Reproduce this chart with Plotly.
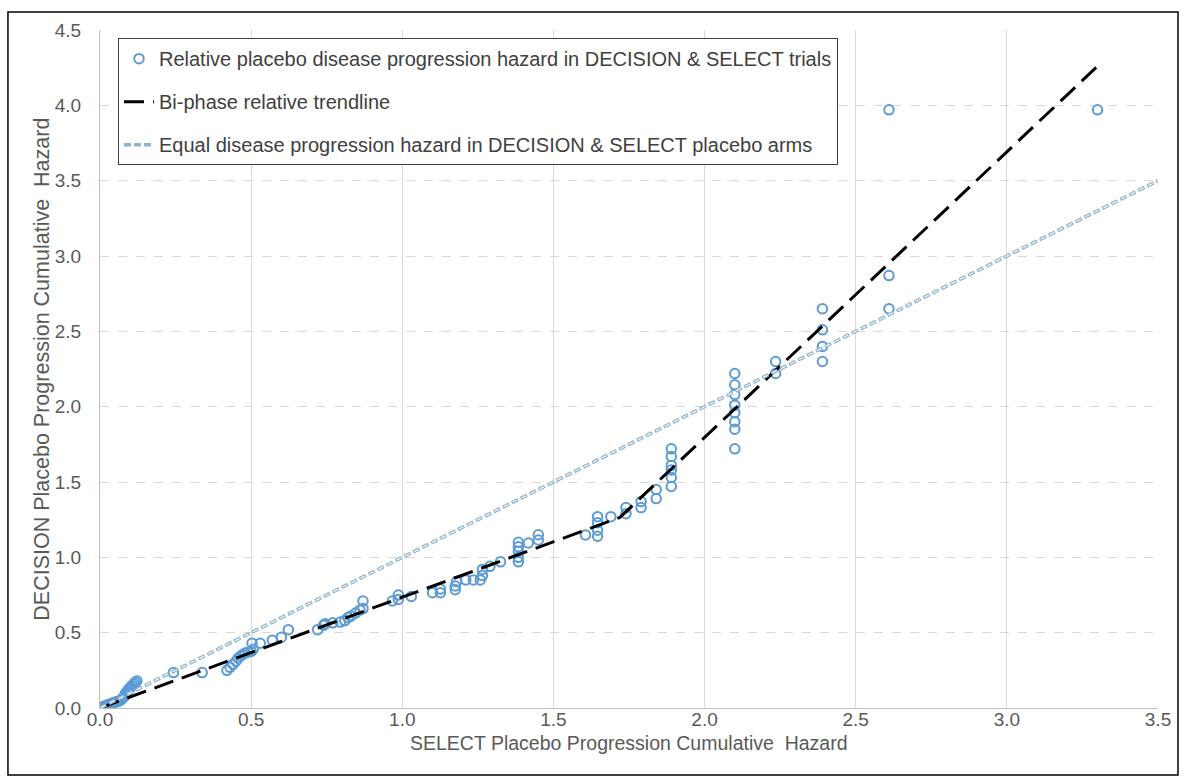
import plotly.graph_objects as go

# Relative placebo disease progression hazard (SELECT x, DECISION y)
select_hazard = [
    0.0, 0.005, 0.01, 0.015, 0.02, 0.025, 0.03, 0.035, 0.04, 0.045, 0.05, 0.055, 0.06, 0.065,
    0.07, 0.075, 0.08, 0.083, 0.086, 0.09, 0.094, 0.098, 0.102, 0.107, 0.112, 0.117, 0.122,
    0.243, 0.338,
    0.42, 0.43, 0.44, 0.45, 0.457, 0.465, 0.473, 0.48, 0.49, 0.50, 0.503, 0.507, 0.53, 0.57, 0.60, 0.623,
    0.72, 0.74, 0.745, 0.77, 0.795, 0.81, 0.82, 0.83, 0.845, 0.86, 0.87, 0.87,
    0.967, 0.987, 0.987, 1.03, 1.10, 1.126, 1.126, 1.175, 1.175, 1.18, 1.21, 1.235, 1.258, 1.265, 1.265, 1.29, 1.325,
    1.384, 1.384, 1.384, 1.384, 1.384, 1.417, 1.45, 1.45,
    1.606, 1.646, 1.646, 1.646, 1.646, 1.69, 1.74, 1.74, 1.79, 1.79, 1.84, 1.84,
    1.89, 1.89, 1.89, 1.89, 1.89, 1.89,
    2.10, 2.10, 2.10, 2.10, 2.10, 2.10, 2.10, 2.10,
    2.235, 2.235,
    2.39, 2.39, 2.39, 2.39,
    2.61, 2.61, 2.61, 3.30,
]
decision_hazard = [
    0.0, 0.004, 0.008, 0.012, 0.016, 0.02, 0.024, 0.028, 0.032, 0.035, 0.038, 0.042, 0.045, 0.048,
    0.055, 0.065, 0.075, 0.09, 0.10, 0.11, 0.12, 0.13, 0.14, 0.15, 0.16, 0.17, 0.18,
    0.235, 0.235,
    0.25, 0.27, 0.29, 0.31, 0.33, 0.345, 0.355, 0.365, 0.37, 0.375, 0.43, 0.39, 0.43, 0.45, 0.47, 0.52,
    0.52, 0.55, 0.56, 0.565, 0.57, 0.58, 0.60, 0.61, 0.63, 0.65, 0.66, 0.71,
    0.71, 0.72, 0.75, 0.74, 0.765, 0.765, 0.79, 0.785, 0.81, 0.84, 0.85, 0.85, 0.85, 0.88, 0.92, 0.94, 0.97,
    0.97, 1.00, 1.04, 1.07, 1.10, 1.095, 1.115, 1.15,
    1.149, 1.14, 1.18, 1.23, 1.27, 1.27, 1.29, 1.33, 1.33, 1.37, 1.39, 1.45,
    1.47, 1.53, 1.58, 1.61, 1.67, 1.72,
    1.72, 1.85, 1.90, 1.96, 2.01, 2.08, 2.145, 2.22,
    2.22, 2.30,
    2.30, 2.40, 2.51, 2.65,
    2.65, 2.87, 3.97, 3.97,
]

# Bi-phase trendline vertices
trend_x = [0.0, 1.72, 3.30]
trend_y = [0.0, 1.265, 4.26]

# Equal hazard line
equal_x = [0.0, 3.5]
equal_y = [0.0, 3.5]

x_ticks = [0.0, 0.5, 1.0, 1.5, 2.0, 2.5, 3.0, 3.5]
y_ticks = [0.0, 0.5, 1.0, 1.5, 2.0, 2.5, 3.0, 3.5, 4.0, 4.5]

FONT = "Liberation Sans, Arial, sans-serif"
MARKER_COLOR = "#5b9bd5"
EQUAL_COLOR = "#8db3cf"

fig = go.Figure()

fig.add_trace(go.Scatter(
    x=select_hazard, y=decision_hazard, mode="markers",
    name="Relative placebo disease progression hazard in DECISION & SELECT trials",
    marker=dict(symbol="circle-open", size=9.5, color=MARKER_COLOR, line=dict(width=2, color=MARKER_COLOR)),
    legendgroup="a",
))
fig.add_trace(go.Scatter(
    x=trend_x, y=trend_y, mode="lines",
    name="Bi-phase relative trendline",
    line=dict(color="black", width=3, dash="20px,9px"),
    legendgroup="b",
))
fig.add_trace(go.Scatter(
    x=equal_x, y=equal_y, mode="lines",
    name="Equal disease progression hazard in DECISION & SELECT placebo arms",
    line=dict(color=EQUAL_COLOR, width=3.5, dash="7px,3px"),
    legendgroup="c",
))
fig.add_trace(go.Scatter(
    x=equal_x, y=equal_y, mode="lines", showlegend=False, hoverinfo="skip",
    line=dict(color="white", width=1.1, dash="0px,1px,5px,4px"),
    legendgroup="c",
))

fig.update_layout(
    width=1185, height=782,
    margin=dict(l=100, r=27, t=30, b=74),
    paper_bgcolor="white", plot_bgcolor="white",
    font=dict(family=FONT, color="#595959", size=19),
    showlegend=True,
    legend=dict(
        x=0.017, y=0.988, xanchor="left", yanchor="top",
        bgcolor="white", bordercolor="#404040", borderwidth=1,
        font=dict(family=FONT, size=20, color="#404040"),
        tracegroupgap=14, traceorder="grouped", itemwidth=30,
    ),
    xaxis=dict(
        range=[0, 3.5], tickvals=x_ticks, tickformat=".1f",
        showgrid=True, gridcolor="#d9d9d9", gridwidth=1,
        showline=True, linecolor="#bfbfbf", linewidth=1,
        zeroline=False, ticks="", ticklabelstandoff=-6,
        tickfont=dict(size=19, color="#595959"),
    ),
    yaxis=dict(
        range=[0, 4.5], tickvals=y_ticks, tickformat=".1f",
        showgrid=True, gridcolor="#d9d9d9", gridwidth=1, griddash="dash",
        showline=True, linecolor="#bfbfbf", linewidth=1,
        zeroline=False, ticks="outside", ticklen=14, tickcolor="rgba(0,0,0,0)",
        tickfont=dict(size=19, color="#595959"),
    ),
    annotations=[
        dict(text="SELECT Placebo Progression Cumulative  Hazard", xref="paper", yref="paper",
             x=0.5, y=-0.051, xanchor="center", yanchor="middle", showarrow=False,
             font=dict(size=19.5, color="#595959", family=FONT)),
        dict(text="DECISION Placebo Progression Cumulative  Hazard", xref="paper", yref="paper",
             x=-0.0548, y=0.499, xanchor="center", yanchor="middle", showarrow=False, textangle=-90,
             font=dict(size=21.5, color="#595959", family=FONT)),
    ],
    shapes=[
        dict(type="rect", xref="paper", yref="paper", x0=-0.087, x1=1.0189, y0=-0.0988, y1=1.0265,
             line=dict(color="black", width=1.5), fillcolor="rgba(0,0,0,0)", layer="above"),
    ],
)

fig.write_html("out.html")
